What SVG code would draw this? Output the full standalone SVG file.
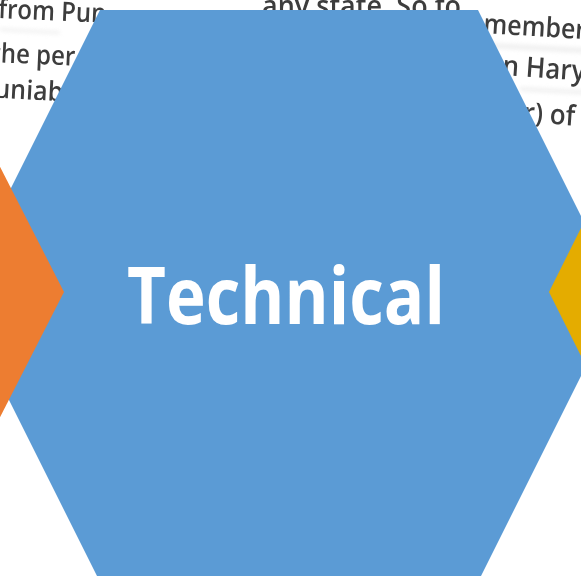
<svg xmlns="http://www.w3.org/2000/svg" width="581" height="576" viewBox="0 0 581 576">
  <defs>
    <style>
      .page { font-family: "Open Sans", "DejaVu Sans", sans-serif; font-weight: 600; fill: #3d3d3d; }
      .label { font-family: "Open Sans", "Noto Sans", sans-serif; font-weight: 700; fill: #ffffff; }
    </style>
    <!-- scanned page strip: bottom edge runs slightly downhill -->
    <clipPath id="pageClip">
      <polygon points="0,0 581,0 581,129 0,98"/>
    </clipPath>
    <filter id="soft" x="-5%" y="-20%" width="110%" height="140%">
      <feGaussianBlur stdDeviation="0.6"/>
    </filter>
    <filter id="haze" x="-5%" y="-100%" width="110%" height="300%">
      <feGaussianBlur stdDeviation="2"/>
    </filter>
  </defs>

  <rect width="581" height="576" fill="#ffffff"/>

  <!-- background page text, each fragment placed on its own baseline -->
  <g id="page-text" clip-path="url(#pageClip)">
    <g filter="url(#haze)" fill="#e8e8e8" opacity="0.7">
      <rect x="470" y="42" width="120" height="5" transform="rotate(3 470 44)"/>
      <rect x="0" y="28" width="60" height="3" transform="rotate(3 0 29)"/>
      <rect x="520" y="87" width="70" height="4" transform="rotate(3 520 89)"/>
    </g>
    <g class="page" filter="url(#soft)">
      <text font-size="24" transform="translate(-2 18) rotate(2.5) scale(1 1.12)">from Pun</text>
      <text font-size="27" transform="translate(262 16) scale(1 1.08)">any state. So fo</text>
      <text font-size="25" transform="translate(483 33) rotate(3.5) scale(1 1.1)">member</text>
      <text font-size="24" transform="translate(-9 62) rotate(2.5) scale(1 1.12)">the per</text>
      <text font-size="26" transform="translate(502 75) rotate(4) scale(1 1.08)">n Hary</text>
      <text font-size="25" transform="translate(-6 98) rotate(3) scale(1 1.1)">unjab</text>
      <text font-size="26" transform="translate(523 122) rotate(4) scale(1 1.08)">r) of t</text>
    </g>
  </g>

  <!-- centre node -->
  <g id="node-technical">
    <polygon points="100,10 478,10 621,296 478,582 100,582 -43,296" fill="#5B9BD5"/>
    <text class="label" x="127" y="324" font-size="78" textLength="318" lengthAdjust="spacingAndGlyphs">Technical</text>
  </g>

  <!-- neighbouring node, left -->
  <g id="node-left">
    <polygon points="-80,10 64,292 -80,574" fill="#ED7D31"/>
  </g>

  <!-- neighbouring node, right -->
  <g id="node-right">
    <polygon points="549,292 690,10 690,574" fill="#E4AC00"/>
  </g>
</svg>
